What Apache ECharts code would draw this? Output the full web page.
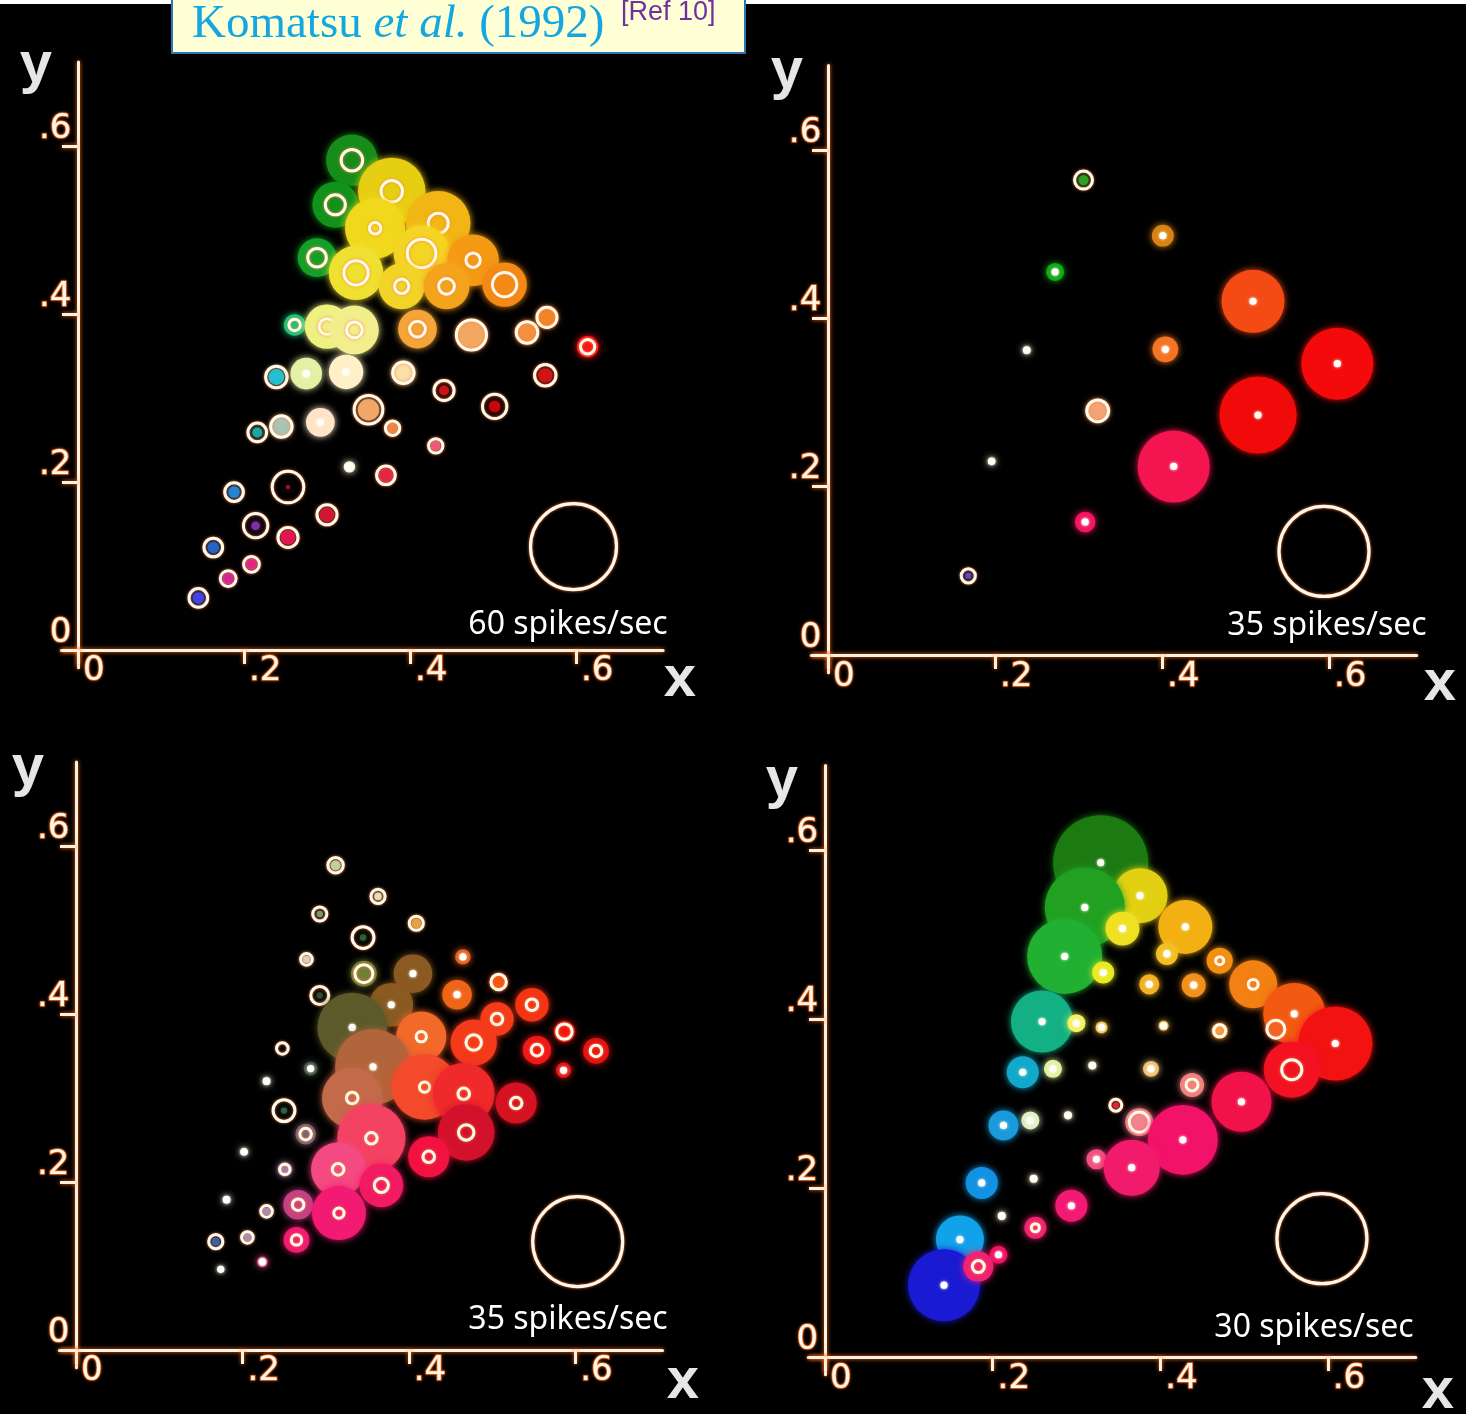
<!DOCTYPE html>
<html><head><meta charset="utf-8">
<script src="https://cdn.jsdelivr.net/npm/echarts@6/dist/echarts.min.js"></script>
<style>html,body{margin:0;padding:0;background:#000;}#c{width:1466px;height:1414px;}</style>
</head><body><div id="c"></div>
<script>
// ---------- data ----------
const tickValues = [0, 0.2, 0.4, 0.6];
const tickLabels = ['0', '.2', '.4', '.6'];
const refRates = [60, 35, 35, 30];
const refLabels = ['60 spikes/sec', '35 spikes/sec', '35 spikes/sec', '30 spikes/sec'];
const refX = [0.597, 0.594, 0.603, 0.593];
const refY = [0.123, 0.123, 0.129, 0.140];

// Panel 1 (60 spikes/sec)
const p1X = [0.330,0.310,0.288,0.378,0.358,0.434,0.414,0.476,0.335,0.390,0.444,0.514,0.261,0.300,0.333,0.409,0.474,0.541,0.565,0.614,0.239,0.275,0.323,0.392,0.441,0.563,0.502,0.350,0.292,0.245,0.216,0.379,0.431,0.327,0.371,0.253,0.188,0.300,0.214,0.253,0.163,0.209,0.181,0.145];
const p1Y = [0.583,0.530,0.467,0.546,0.502,0.508,0.472,0.464,0.449,0.433,0.433,0.435,0.387,0.385,0.381,0.382,0.375,0.378,0.396,0.361,0.325,0.329,0.331,0.330,0.309,0.327,0.290,0.286,0.271,0.266,0.259,0.264,0.243,0.218,0.208,0.194,0.188,0.161,0.148,0.134,0.122,0.102,0.085,0.062];
const p1Rate = [36,32,27,47,42,45,39,36,38,32,32,31,15,31,34,27,20,15,14,15,11,22,24,15,7,10,8,15,20,14,7,8,7,8,10,3,8,10,6,10,8,8,8,8];
const p1Ring = [15,14,13,15,8,14,20,10,17,10,11,17,8,11,11,11,21,15,14,10,15,0,0,15,14,15,17,20,0,15,13,10,10,0,13,22,13,14,17,14,13,11,11,13];
const p1Color = ['#178c1a','#11921a','#14a028','#e6cf12','#f2d81c','#f2b614','#f4d424','#f49a14','#f0e030','#f2d428','#f4a41c','#f48a14','#14c87a','#eef080','#f2ee8c','#f4a438','#f2a860','#f49040','#f48428','#ff1414','#22c0d2','#e4f0a4','#fff0c8','#f8e0a8','#c81414','#d01414','#c80808','#f0a868','#ffe4c8','#a8c4b4','#20a4a4','#f08448','#f05878','#fff4d8','#e42444','#a01830','#2484d4','#d41434','#8030a0','#e41454','#2464c8','#e42484','#d42494','#4444e4'];

// Panel 2 (35 spikes/sec)
const p2X = [0.306,0.401,0.272,0.509,0.238,0.404,0.610,0.323,0.515,0.414,0.196,0.308,0.168];
const p2Y = [0.564,0.498,0.455,0.420,0.362,0.363,0.346,0.290,0.285,0.224,0.230,0.158,0.094];
const p2Rate = [4,8.5,7,24.5,3,10,28,8,30,28,3,8,2.5];
const p2Ring = [7,0,0,0,0,0,0,8.5,0,0,0,0,5.5];
const p2Color = ['#2aa020','#d88414','#14a814','#f44a14','#e8f4c8','#f47424','#f40a0a','#f4a474','#f00a0a','#f41450','#f4e4b4','#f41464','#6444c4'];

// Panel 3 (35 spikes/sec)
const p3X = [0.312,0.363,0.293,0.409,0.345,0.465,0.277,0.346,0.405,0.508,0.458,0.293,0.379,0.548,0.506,0.332,0.587,0.415,0.478,0.248,0.554,0.625,0.357,0.282,0.586,0.229,0.419,0.466,0.332,0.529,0.250,0.469,0.276,0.355,0.202,0.424,0.315,0.251,0.367,0.181,0.267,0.229,0.316,0.206,0.265,0.168,0.224,0.174];
const p3Y = [0.577,0.540,0.519,0.508,0.491,0.468,0.465,0.448,0.448,0.438,0.423,0.422,0.411,0.411,0.394,0.384,0.379,0.373,0.366,0.359,0.357,0.356,0.337,0.335,0.333,0.320,0.313,0.305,0.300,0.294,0.285,0.259,0.257,0.252,0.236,0.230,0.215,0.215,0.196,0.179,0.173,0.165,0.163,0.134,0.131,0.129,0.105,0.096];
const p3Rate = [4,3,2.5,4,2.5,6,3,10,15,6,11.5,2.5,17,13,13,27,8,19.5,18,0,11,10,29.5,5.5,6,3,25.5,24,23.5,16,2.5,22,8,26.5,3,16,21,5.5,17,3,11.5,3,21,3,10,3,4,2.5];
const p3Ring = [6,5.5,5.5,5.5,8.5,0,4.5,7,0,6,0,7,0,4.5,4.5,0,6,4,6,4.5,4.5,4.5,0,0,0,0,4,4.5,4.5,4.5,8.5,6,4.5,4.5,0,4.5,4.5,4,5.5,0,4.5,4.5,4,4.5,4,5.5,0,0];
const p3Color = ['#c0d0a0','#e4e0b4','#809070','#e4a444','#306030','#e46020','#d8d8c0','#708034','#8a5a22','#f45414','#f06418','#304a30','#8a5a22','#f43414','#f43c1c','#5c5a2a','#f41414','#f26a2a','#f43a1a','#202020','#f01818','#e41212','#b2643a','#405040','#e41212','#f0f0e0','#f24a2a','#f02a2a','#c26a4a','#d41222','#306040','#d2122a','#806272','#f44262','#f0f0e0','#f21242','#f44a82','#9282b2','#f21a62','#f0f0e0','#c44282','#a090c0','#f21a72','#a090c0','#f21a72','#3262b2','#f0508a','#e0e0d0'];

// Panel 4 (30 spikes/sec)
const p4X = [0.329,0.376,0.310,0.430,0.355,0.408,0.286,0.471,0.332,0.511,0.387,0.440,0.560,0.259,0.300,0.404,0.330,0.538,0.471,0.609,0.319,0.272,0.389,0.557,0.236,0.438,0.497,0.347,0.290,0.245,0.375,0.213,0.427,0.324,0.366,0.249,0.187,0.294,0.211,0.251,0.161,0.207,0.142,0.183];
const p4Y = [0.585,0.546,0.532,0.509,0.507,0.477,0.474,0.469,0.455,0.441,0.441,0.440,0.406,0.397,0.395,0.392,0.390,0.388,0.386,0.371,0.345,0.341,0.341,0.340,0.337,0.322,0.302,0.298,0.286,0.280,0.278,0.274,0.257,0.234,0.224,0.211,0.206,0.179,0.167,0.153,0.139,0.121,0.085,0.107];
const p4Rate = [31.7,18.3,26.7,18,11.3,7.3,25,8.7,7.3,16,6.7,8,20.7,20.7,6,3.3,4,5.3,5.3,24.7,2.7,6,5.3,18.7,10.7,8,20,2,2.7,6,9.3,10,23.3,6.7,18.7,2.7,10.7,10.7,2.7,7.3,16,6,24,10];
const p4Ring = [0,0,0,0,0,0,0,2.7,0,3.3,0,0,0,0,0,0,0,6,4,0,0,0,0,6.7,0,4,0,4,0,0,6.7,0,0,0,0,0,0,0,0,2.7,0,0,0,4];
const p4Color = ['#1c7a12','#e2d012','#22a022','#f2b012','#f0e022','#f2c022','#22b032','#f29012','#eaea22','#f28012','#f2b022','#f2901a','#f25a12','#12b082','#f2f262','#f2b242','#f2c242','#f26222','#f2a242','#f21212','#f2e2a2','#e2f2a2','#f2c272','#f21222','#12a8ca','#f28282','#f2124a','#e22242','#f2e2b2','#e2f2c2','#f28292','#1a9ada','#f2126a','#f25282','#f21a6a','#f2e2b2','#1292e2','#f21a72','#f2e2b2','#f22272','#12a2ea','#f21262','#1a1ad2','#f22272'];

// ---------- layout (pixels) ----------
const panels = [
  {ox: 78,  oy: 650,  sx: 830, sy: 840, refPx: 43},
  {ox: 828, oy: 655,  sx: 835, sy: 842, refPx: 45},
  {ox: 76,  oy: 1350, sx: 832, sy: 840, refPx: 45},
  {ox: 825, oy: 1357, sx: 838, sy: 845, refPx: 45}
];
const XMIN = -0.02, XMAX = 0.705, YMIN = -0.021, YMAX = 0.70;
const series4 = [
  [p1X, p1Y, p1Rate, p1Ring, p1Color],
  [p2X, p2Y, p2Rate, p2Ring, p2Color],
  [p3X, p3Y, p3Rate, p3Ring, p3Color],
  [p4X, p4Y, p4Rate, p4Ring, p4Color]
];

const LINE = '#fff1e2', GLOW = '#ff6a10';
function tickFmt(v) {
  const i = tickValues.findIndex(t => Math.abs(t - v) < 1e-6);
  return i >= 0 ? tickLabels[i] : '';
}
const labelBase = {
  fontFamily: 'DejaVu Sans', fontSize: 34, color: '#fff6ea',
  textBorderColor: 'rgba(235,105,25,0.85)', textBorderWidth: 1.6,
  textShadowColor: 'rgba(255,110,20,0.6)', textShadowBlur: 3
};
const lineStyle = {color: LINE, width: 3, shadowBlur: 4, shadowColor: GLOW};

const grids = [], xAxes = [], yAxes = [], series = [], graphics = [];

panels.forEach((P, k) => {
  grids.push({
    left: P.ox + XMIN * P.sx, top: P.oy - YMAX * P.sy,
    width: (XMAX - XMIN) * P.sx, height: (YMAX - YMIN) * P.sy,
    containLabel: false, outerBoundsMode: 'none'
  });
  xAxes.push({
    type: 'value', gridIndex: k, min: XMIN, max: XMAX,
    splitLine: {show: false},
    axisLine: {show: true, onZero: true, lineStyle},
    axisTick: {show: true, inside: false, length: 14, customValues: tickValues, lineStyle},
    axisLabel: Object.assign({show: true, customValues: tickValues, formatter: tickFmt,
      align: 'left', verticalAlign: 'top', margin: -13, padding: [0, 0, 0, 5]}, labelBase)
  });
  yAxes.push({
    type: 'value', gridIndex: k, min: YMIN, max: YMAX,
    splitLine: {show: false},
    axisLine: {show: true, onZero: true, lineStyle},
    axisTick: {show: true, inside: false, length: 16, customValues: tickValues, lineStyle},
    axisLabel: Object.assign({show: true, customValues: tickValues, formatter: tickFmt,
      align: 'right', verticalAlign: 'bottom', margin: -10, padding: [0, 0, 0, 0]}, labelBase)
  });

  const [xs, ys, rates, rings, cols] = series4[k];
  const scale = P.refPx / refRates[k];
  series.push({
    type: 'custom', xAxisIndex: k, yAxisIndex: k, clip: false, silent: true,
    data: xs.map((x, i) => [x, ys[i], rates[i], rings[i]]),
    renderItem: function (params, api) {
      const p = api.coord([api.value(0), api.value(1)]);
      const rate = api.value(2), ring = api.value(3);
      const col = cols[params.dataIndex];
      const ch = [];
      if (rate > 0) ch.push({type: 'circle', shape: {cx: p[0], cy: p[1], r: rate * scale},
        style: {fill: col, shadowBlur: 7, shadowColor: col}});
      if (ring > 0) ch.push({type: 'circle', shape: {cx: p[0], cy: p[1], r: ring * scale},
        style: {fill: null, stroke: '#fffaf0', lineWidth: 3, shadowBlur: 3, shadowColor: 'rgba(255,130,50,0.9)'}});
      else ch.push({type: 'circle', shape: {cx: p[0], cy: p[1], r: 3.6},
        style: {fill: '#fffef6', shadowBlur: 3, shadowColor: '#ffffff'}});
      return {type: 'group', children: ch};
    }
  });
  // reference (legend) circle
  series.push({
    type: 'custom', xAxisIndex: k, yAxisIndex: k, clip: false, silent: true,
    data: [[refX[k], refY[k], refRates[k]]],
    renderItem: function (params, api) {
      const p = api.coord([api.value(0), api.value(1)]);
      return {type: 'circle', shape: {cx: p[0], cy: p[1], r: api.value(2) * scale},
        style: {fill: null, stroke: '#fff6ec', lineWidth: 3.2, shadowBlur: 3, shadowColor: 'rgba(255,120,40,0.95)'}};
    }
  });
});

// axis names and legend text (pixel layout)
const axisNamePos = [
  {y: [36, 66], x: [680, 680]},
  {y: [787, 72], x: [1440, 684]},
  {y: [28, 769], x: [683, 1382]},
  {y: [782, 781], x: [1438, 1392]}
];
const spikePos = [[568, 625], [1327, 626], [568, 1320], [1314, 1328]];
axisNamePos.forEach((a, k) => {
  graphics.push({type: 'text', x: a.y[0], y: a.y[1], style: {text: 'y', fill: '#e6e6e6',
    font: 'bold 58px "Liberation Sans"', align: 'center', verticalAlign: 'middle'}});
  graphics.push({type: 'text', x: a.x[0], y: a.x[1], style: {text: 'x', fill: '#e6e6e6',
    font: 'bold 58px "Liberation Sans"', align: 'center', verticalAlign: 'middle'}});
  graphics.push({type: 'text', x: spikePos[k][0], y: spikePos[k][1], style: {text: refLabels[k], fill: '#ffffff',
    font: '32px "Noto Sans"', align: 'center', verticalAlign: 'middle'}});
});
// top strip + title box
graphics.push({type: 'rect', shape: {x: 0, y: 0, width: 1466, height: 4}, style: {fill: '#ffffff'}});
graphics.push({type: 'rect', shape: {x: 172, y: -5, width: 573, height: 58}, style: {fill: '#ffffd6', stroke: '#2f75b5', lineWidth: 2}});
graphics.push({type: 'text', x: 192, y: 25, style: {
  text: '{a|Komatsu }{b|et al.}{a| (1992)}', verticalAlign: 'middle', align: 'left',
  rich: {
    a: {fill: '#14a6e0', fontFamily: 'Liberation Serif', fontSize: 47},
    b: {fill: '#14a6e0', fontFamily: 'Liberation Serif', fontSize: 47, fontStyle: 'italic'}
  }}});
graphics.push({type: 'text', x: 621, y: 13, style: {text: '[Ref 10]', fill: '#7030a0',
  font: '27px "Liberation Sans"', align: 'left', verticalAlign: 'middle'}});

const chart = echarts.init(document.getElementById('c'), null, {renderer: 'canvas'});
chart.setOption({
  backgroundColor: '#000000',
  animation: false,
  grid: grids, xAxis: xAxes, yAxis: yAxes, series: series,
  graphic: {elements: graphics}
});
</script></body></html>
